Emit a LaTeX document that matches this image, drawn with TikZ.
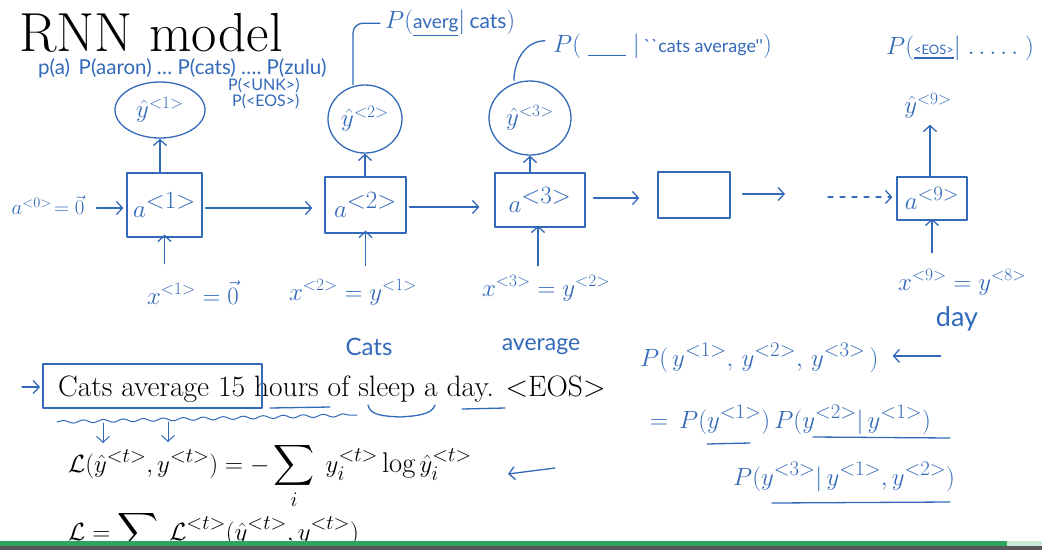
\documentclass[tikz,border=0pt]{standalone}
\usepackage{amsmath,amssymb}
\usepackage{fontspec}
\newfontfamily\handfont{Lato}
\usetikzlibrary{arrows.meta,shapes.geometric,decorations.pathmorphing}
\definecolor{hand}{RGB}{50,105,185}
\definecolor{barg}{RGB}{45,165,95}
\tikzset{
  hw/.style={draw=hand, line width=1.3pt, line cap=round, line join=round},
  harrow/.style={hw, -{Straight Barb[length=6pt,width=13pt]}},
  cell/.style={hw, rectangle, inner sep=0pt, text=hand, font=\fontsize{34}{34}\selectfont},
  outc/.style={hw, ellipse, inner sep=0pt, text=hand, font=\fontsize{26}{26}\selectfont},
  htext/.style={text=hand, inner sep=0pt, font=\fontsize{24}{24}\selectfont},
  hsmall/.style={text=hand, inner sep=0pt, font=\handfont\fontsize{16}{16}\selectfont},
  htex/.style={text=black, inner sep=0pt},
  wavy/.style={hw, line width=1pt, decorate, decoration={snake, amplitude=1.5pt, segment length=20pt}}
}
\begin{document}
\begin{tikzpicture}[x=1pt, y=-1pt]
\useasboundingbox (0,0) rectangle (1042,550);
\fill[white] (0,0) rectangle (1042,550);

% title
\node[htex, anchor=base west, font=\fontsize{55}{55}\selectfont] (title) at (19,51) {RNN model};

% top-left vocabulary probabilities
\node[hsmall, anchor=base west, font=\handfont\fontsize{20.5}{20.5}\selectfont] (voc) at (38,74) {p(a)\, P(aaron) \dots\ P(cats) \dots.\ P(zulu)};
\node[hsmall, anchor=base west] (unk) at (228,90) {P(<UNK>)};
\node[hsmall, anchor=base west] (eos) at (232,106) {P(<EOS>)};

% cells
\node[cell, minimum width=75pt, minimum height=64pt] (a1) at (164.5,205) {$a^{<1>}$};
\node[cell, minimum width=81pt, minimum height=56pt] (a2) at (365.5,205) {$a^{<2>}$};
\node[cell, minimum width=90pt, minimum height=54pt] (a3) at (540,200) {$a^{<3>}$};
\node[cell, minimum width=72pt, minimum height=46pt] (a4) at (694,195) {};
\node[cell, minimum width=70pt, minimum height=43pt, font=\fontsize{28}{28}\selectfont] (a9) at (932,198.5) {$a^{<9>}$};

% outputs
\node[outc, minimum width=90pt, minimum height=56pt] (y1) at (160,110) {$\hat{y}^{<1>}$};
\node[outc, minimum width=74pt, minimum height=68pt] (y2) at (365,119) {$\hat{y}^{<2>}$};
\node[outc, minimum width=82pt, minimum height=74pt] (y3) at (530,118) {$\hat{y}^{<3>}$};
\node[htext, font=\fontsize{26}{26}\selectfont] (y9) at (928,106) {$\hat{y}^{<9>}$};

\draw[harrow] (y1.south |- a1.north) -- (y1.south);
\draw[harrow] (y2.south |- a2.north) -- (y2.south);
\draw[harrow] (y3.south |- a3.north) -- (y3.south);
\draw[harrow] ([xshift=-2pt]a9.north) -- ([xshift=-2pt,yshift=-6pt]a9.north |- y9.south);

% probability annotations
\node[htext, anchor=base west, font=\fontsize{28}{28}\selectfont] (p2) at (385,28) {$P(\underline{\text{\handfont\fontsize{19}{19}\selectfont averg}}|\,\text{\handfont\fontsize{21}{21}\selectfont cats})$};
\node[htext, anchor=base west, font=\fontsize{28}{28}\selectfont] (p3) at (553,52) {$P(\;\underline{\hspace{38pt}}\;|\,\text{\handfont\fontsize{18}{18}\selectfont ``cats average''})$};
\node[htext, anchor=base west, font=\fontsize{28}{28}\selectfont] (p9) at (886,54) {$P(\underline{\text{\handfont\fontsize{13}{13}\selectfont <EOS>}}|\;.\,.\,.\,.\,.\;)$};
\draw[hw, rounded corners=10pt] ([xshift=-12pt]y2.north) |- ([xshift=-5pt]p2.west);
\draw[hw] ([xshift=-16pt]y3.north) to[out=90, in=180] ([xshift=-8pt, yshift=5pt]p3.west);

% initial activation
\node[htext, font=\fontsize{22}{22}\selectfont] (a0) at (48,205) {$a^{<0>}\!=\vec{0}$};
\draw[harrow] ([xshift=12pt]a0.east |- 0,208) -- ([xshift=-3pt]a1.west |- 0,208);

% recurrent arrows
\coordinate (e4) at (785,194);
\coordinate (d0) at (828,197);
\draw[harrow] ([xshift=3pt]a1.east |- 0,208) -- ([xshift=-12pt]a2.west |- 0,208);
\draw[harrow] ([xshift=3pt]a2.east |- 0,207) -- ([xshift=-15pt]a3.west |- 0,207);
\draw[harrow] ([xshift=8pt]a3.east |- 0,198) -- ([xshift=-18pt]a4.west |- 0,198);
\draw[harrow] ([xshift=12pt]a4.east |- e4) -- (e4);
\draw[harrow, dashed, dash pattern=on 5pt off 7pt] (d0) -- ([xshift=-4pt]a9.west |- d0);

% inputs
\node[htext, anchor=base] (x1) at (193,304) {$x^{<1>}=\vec{0}$};
\node[htext, anchor=base] (x2) at (353,300) {$x^{<2>}=y^{<1>}$};
\node[htext, anchor=base] (x3) at (546,296) {$x^{<3>}=y^{<2>}$};
\node[htext, anchor=base] (x9) at (962,290) {$x^{<9>}=y^{<8>}$};
\draw[harrow] ([yshift=-26pt]a1.south) -- ([yshift=3pt]a1.south);
\draw[harrow] ([yshift=-32pt]a2.south) -- ([yshift=3pt]a2.south);
\draw[harrow] ([xshift=-2pt,yshift=-38pt]a3.south) -- ([xshift=-2pt,yshift=2pt]a3.south);
\draw[harrow] ([yshift=-32pt]a9.south) -- ([yshift=2pt]a9.south);

% word labels
\node[hsmall, font=\handfont\fontsize{24}{24}\selectfont, anchor=base] (wc) at (369,355) {Cats};
\node[hsmall, font=\handfont\fontsize{23}{23}\selectfont, anchor=base] (wa) at (541,350) {average};
\node[hsmall, font=\handfont\fontsize{27}{27}\selectfont, anchor=base] (wd) at (957,326) {day};

% training sentence
\node[htex, anchor=base west, font=\fontsize{29.5}{29.5}\selectfont] (sent) at (58,396) {Cats average 15 hours of sleep a day. <EOS>};
\coordinate (bx1) at (43,364);
\coordinate (bx2) at (262,408);
\draw[hw] (bx1) rectangle (bx2);
\coordinate (in0) at (22,387);
\draw[harrow] (in0) -- ([xshift=-3pt]bx1 |- in0);
\draw[hw] (270,408) -- (330,407);
\draw[hw] (368,405) .. controls (370,416) and (385,416) .. (400,417) .. controls (415,416) and (432,415) .. (435,405);
\draw[hw] (462,409) -- (505,408);
\draw[wavy] (57,422) -- (357,415);
\coordinate (w1) at (103,423);
\coordinate (w2) at (168,422);
\draw[harrow, line width=1pt] (w1) -- ++(0,20);
\draw[harrow, line width=1pt] (w2) -- ++(0,20);

% loss equations
\node[htex, anchor=base west, font=\fontsize{28.5}{28.5}\selectfont] (loss) at (68,472) {$\mathcal{L}(\hat{y}^{<t>},y^{<t>}) = -\displaystyle\sum_i\; y_i^{<t>}\log\hat{y}_i^{<t>}$};
\coordinate (la) at (555,468);
\draw[harrow] (la) -- (508,474);
\begin{scope}
\clip (0,0) rectangle (1042,541);
\node[htex, anchor=base west, font=\fontsize{28.5}{28.5}\selectfont] (lossall) at (68,540) {$\mathcal{L} = \displaystyle\sum_t\; \mathcal{L}^{<t>}(\hat{y}^{<t>},y^{<t>})$};
\end{scope}

% joint probability
\node[htext, font=\fontsize{30}{30}\selectfont, anchor=base west] (j1) at (640,366) {$P(\,y^{<1>},\,y^{<2>},\,y^{<3>}\,)$};
\draw[harrow] ([xshift=62pt, yshift=2pt]j1.east) -- ([xshift=14pt, yshift=2pt]j1.east);
\node[htext, font=\fontsize{31}{31}\selectfont, anchor=base west] (j2) at (650,428) {$=\,P(y^{<1>})\,P(y^{<2>}|\,y^{<1>})$};
\node[htext, font=\fontsize{31}{31}\selectfont, anchor=base west] (j3) at (733,485) {$P(y^{<3>}|\,y^{<1>},y^{<2>})$};
\draw[hw] (707,444) -- (750,443);
\draw[hw] (813,437) -- (950,438);
\draw[hw] (772,503) -- (950,502);

% video progress bar
\fill[barg] (0,541) rectangle (1007,546);
\fill[barg!25] (1007,541) rectangle (1042,546);
\fill[black!65] (0,546) rectangle (1042,550);
\end{tikzpicture}
\end{document}
